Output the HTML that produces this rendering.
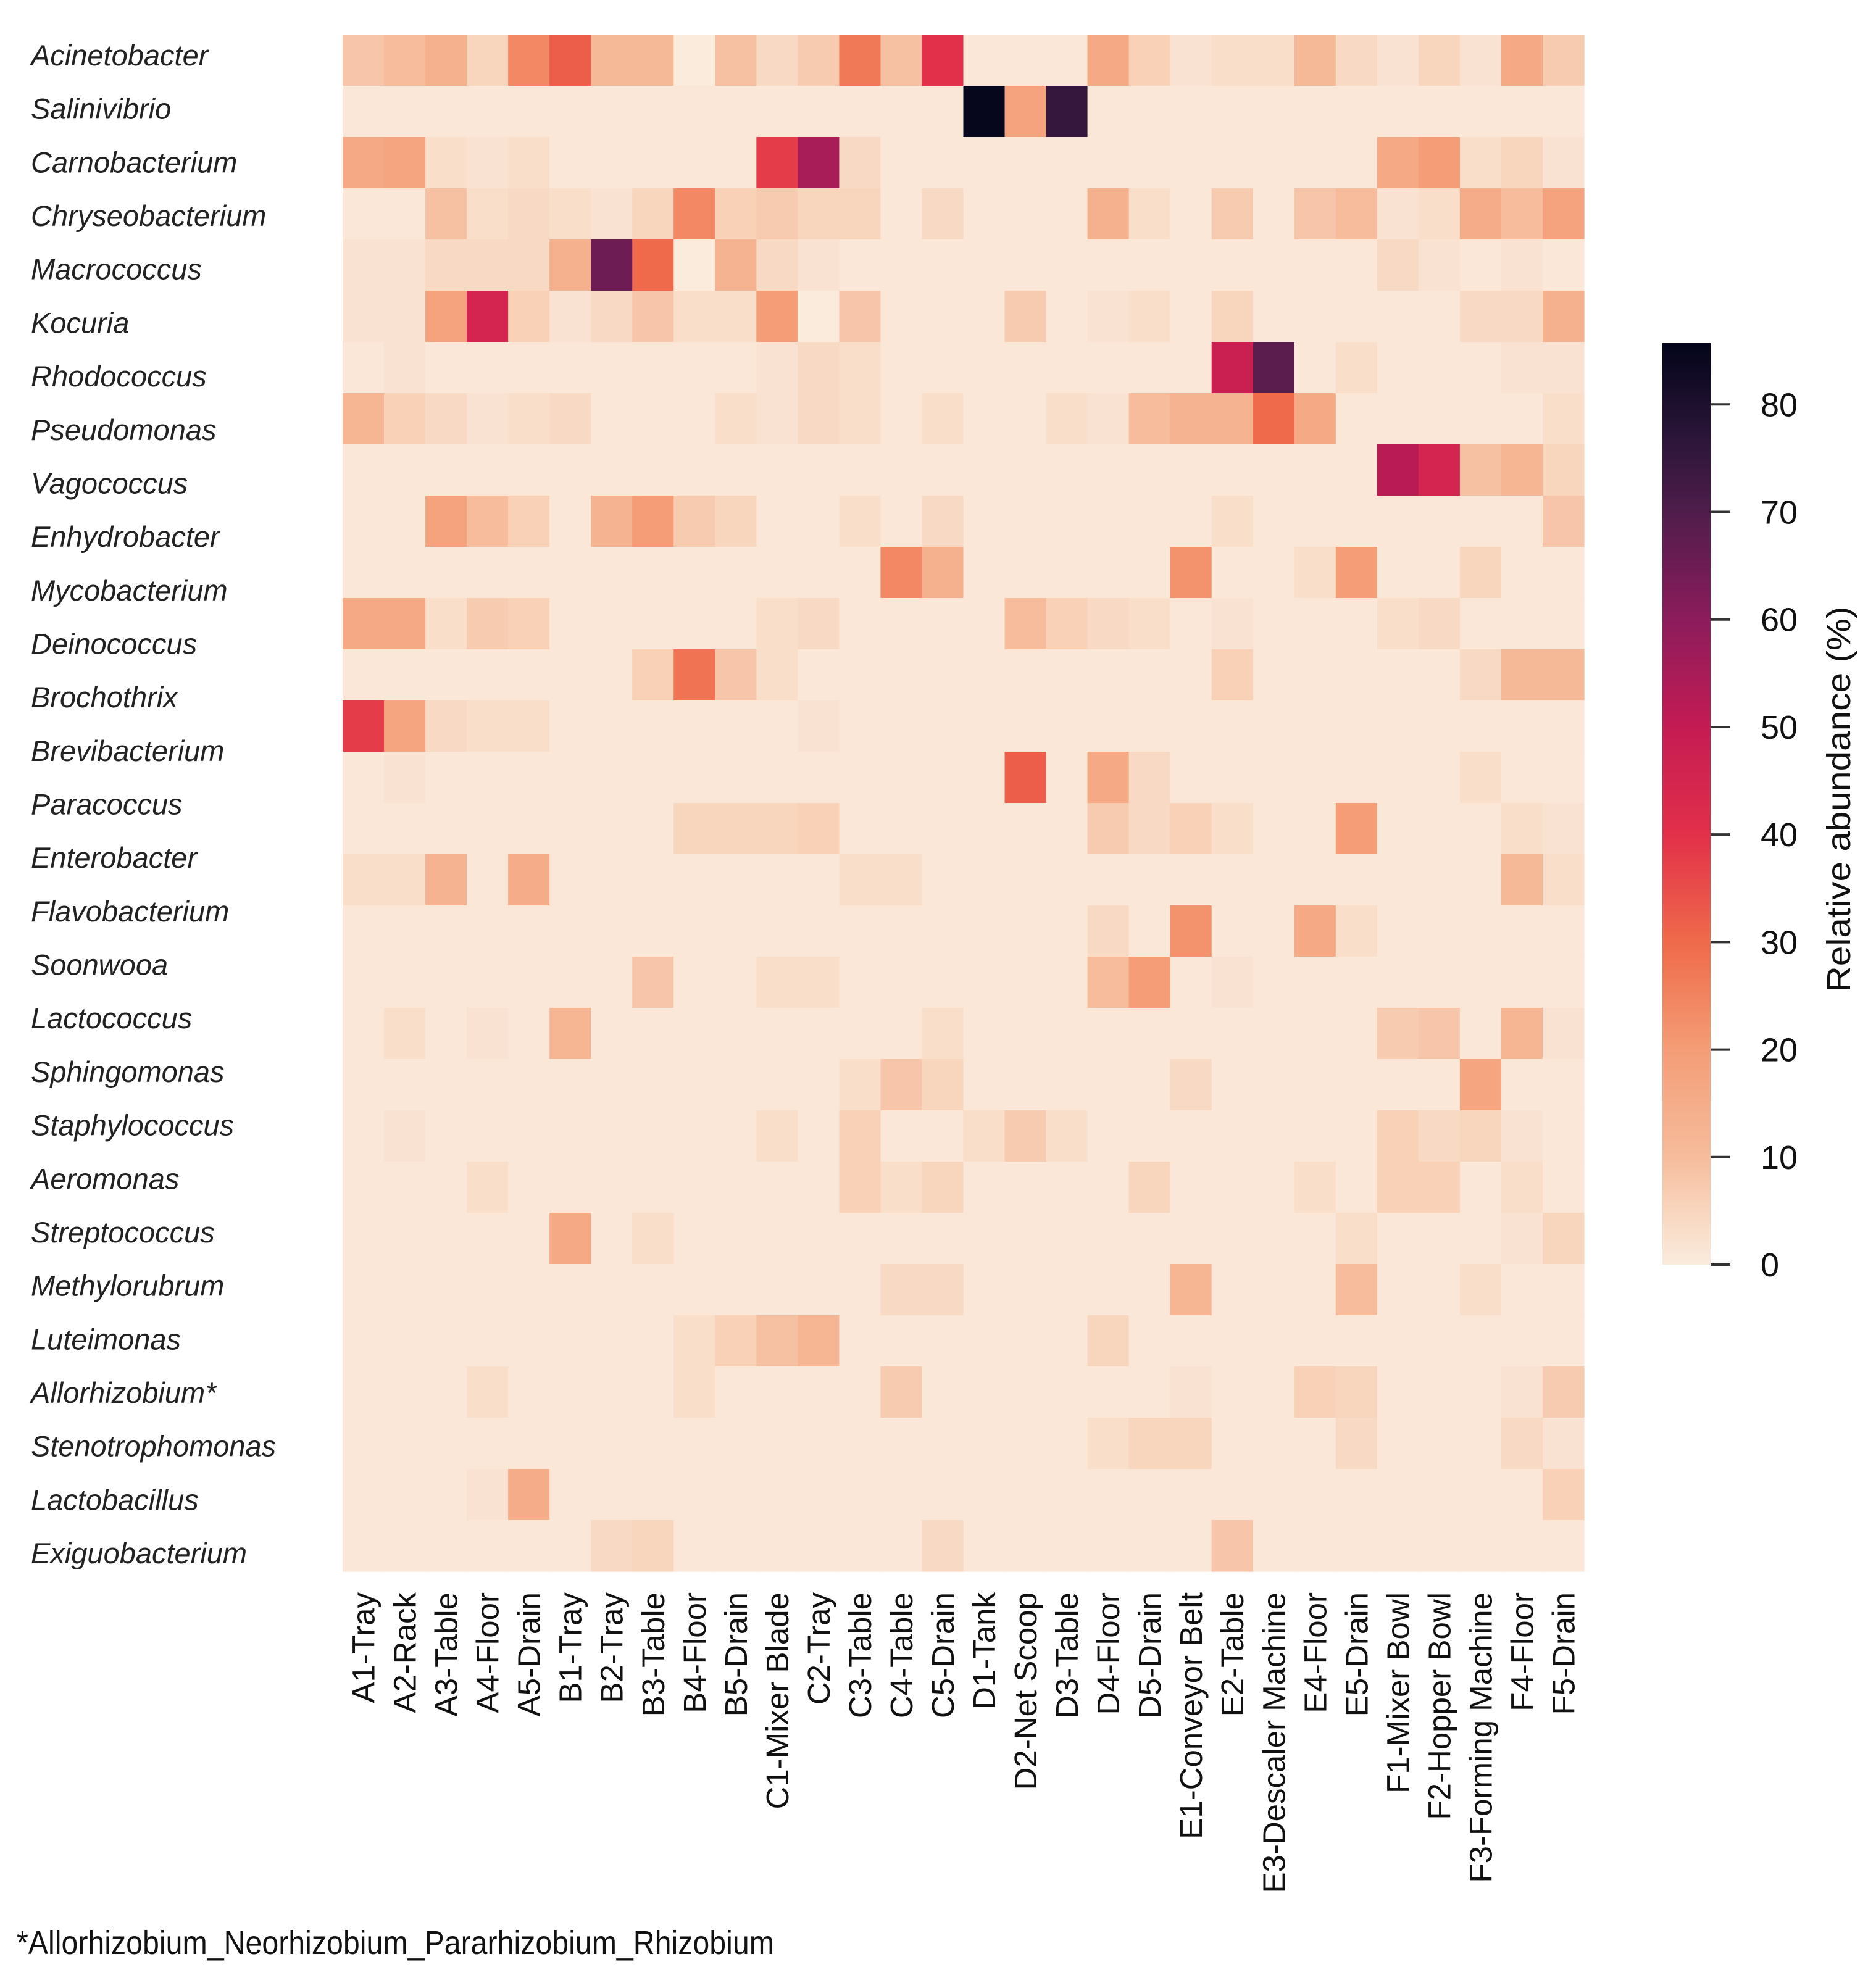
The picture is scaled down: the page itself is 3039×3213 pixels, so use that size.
<!DOCTYPE html>
<html><head><meta charset="utf-8">
<style>
html,body{margin:0;padding:0;background:#fff;}
svg{display:block;font-family:"Liberation Sans",Arial,sans-serif;}
</style></head>
<body>
<svg id="chart" xmlns="http://www.w3.org/2000/svg" width="3039" height="3213" viewBox="0 0 3039 3213">
  <defs>
    <linearGradient id="rocketGrad" x1="0" y1="1" x2="0" y2="0">
      <stop offset="0" stop-color="#faebdd"/>
      <stop offset="0.06" stop-color="#f8d5bd"/>
      <stop offset="0.117" stop-color="#f6bc9c"/>
      <stop offset="0.233" stop-color="#f49d76"/>
      <stop offset="0.35" stop-color="#ef6a4a"/>
      <stop offset="0.467" stop-color="#e2304a"/>
      <stop offset="0.583" stop-color="#c41b53"/>
      <stop offset="0.7" stop-color="#8c1c5c"/>
      <stop offset="0.817" stop-color="#4f1d4b"/>
      <stop offset="0.9" stop-color="#2a1538"/>
      <stop offset="1" stop-color="#03051a"/>
    </linearGradient>
  </defs>
  <g id="cells"></g>
  <g id="ylabels"></g>
  <g id="xlabels"></g>
  <g id="cbar">
    <rect x="2693" y="556" width="78" height="1493" fill="url(#rocketGrad)"/>
  </g>
  <text x="0" y="0" font-size="54" text-anchor="middle" transform="translate(2997,1295) rotate(-90)" textLength="625" lengthAdjust="spacingAndGlyphs" fill="#111">Relative abundance (%)</text>
  <text x="27" y="3166" font-size="54" textLength="1227" lengthAdjust="spacingAndGlyphs" fill="#111">*Allorhizobium_Neorhizobium_Pararhizobium_Rhizobium</text>
</svg>
<script>
const sampleSites = ["A1-Tray","A2-Rack","A3-Table","A4-Floor","A5-Drain","B1-Tray","B2-Tray","B3-Table","B4-Floor","B5-Drain","C1-Mixer Blade","C2-Tray","C3-Table","C4-Table","C5-Drain","D1-Tank","D2-Net Scoop","D3-Table","D4-Floor","D5-Drain","E1-Conveyor Belt","E2-Table","E3-Descaler Machine","E4-Floor","E5-Drain","F1-Mixer Bowl","F2-Hopper Bowl","F3-Forming Machine","F4-Floor","F5-Drain"];
const taxaLabels = ["Acinetobacter","Salinivibrio","Carnobacterium","Chryseobacterium","Macrococcus","Kocuria","Rhodococcus","Pseudomonas","Vagococcus","Enhydrobacter","Mycobacterium","Deinococcus","Brochothrix","Brevibacterium","Paracoccus","Enterobacter","Flavobacterium","Soonwooa","Lactococcus","Sphingomonas","Staphylococcus","Aeromonas","Streptococcus","Methylorubrum","Luteimonas","Allorhizobium*","Stenotrophomonas","Lactobacillus","Exiguobacterium"];
const colorbarTicks = [0,10,20,30,40,50,60,70,80];
const colorMax = 85.7;
// cell rows as drawn in the figure (30 drawn rows)
const row00 = [8,10,14,5,24,32,11,11,0,9,4,7,27,9,40,1,1,1,16,6,2,3,3,11,4,2,5,2,16,7];
const row01 = [1,1,1,1,1,1,1,1,1,1,1,1,1,1,1,85,18,75,1,1,1,1,1,1,1,1,1,1,1,1];
const row02 = [16,17,3,2,3,1,1,1,1,1,38,55,4,1,1,1,1,1,1,1,1,1,1,1,1,16,20,3,5,2];
const row03 = [1,1,9,3,4,3,2,5,24,6,7,5,5,1,4,1,1,1,14,3,1,7,1,8,10,2,3,15,10,18];
const row04 = [2,2,4,4,4,14,65,30,0,13,4,2,1,1,1,1,1,1,1,1,1,1,1,1,1,4,2,1,2,1];
const row05 = [2,2,18,45,6,2,4,8,3,3,20,0,8,1,1,1,7,1,2,3,1,5,1,1,1,1,1,4,4,14];
const row06 = [1,2,1,1,1,1,1,1,1,1,2,4,3,1,1,1,1,1,1,1,1,48,68,1,3,1,1,1,2,2];
const row07 = [12,6,4,2,3,4,1,1,1,3,2,4,3,1,3,1,1,3,2,10,13,13,30,16,1,1,1,1,1,3];
const row08 = [1,1,1,1,1,1,1,1,1,1,1,1,1,1,1,1,1,1,1,1,1,1,1,1,1,52,45,9,12,5];
const row09 = [1,1,18,10,6,1,13,20,7,5,1,1,3,1,4,1,1,1,1,1,1,3,1,1,1,1,1,1,1,8];
const row10 = [1,1,1,1,1,1,1,1,1,1,1,1,1,24,14,1,1,1,1,1,22,1,1,3,20,1,1,5,1,1];
const row11 = [16,16,3,7,6,1,1,1,1,1,3,4,1,1,1,1,10,6,4,3,1,2,1,1,1,3,4,1,1,1];
const row12 = [1,1,1,1,1,1,1,6,28,8,3,1,1,1,1,1,1,1,1,1,1,6,1,1,1,1,1,4,11,11];
const row13 = [38,17,4,3,3,1,1,1,1,1,1,2,1,1,1,1,1,1,1,1,1,1,1,1,1,1,1,1,1,1];
const row14 = [1,2,1,1,1,1,1,1,1,1,1,1,1,1,1,1,32,1,16,4,1,1,1,1,1,1,1,3,1,1];
const row15 = [1,1,1,1,1,1,1,1,5,5,5,6,1,1,1,1,1,1,7,4,6,3,1,1,20,1,1,1,3,2];
const row16 = [3,3,13,1,15,1,1,1,1,1,1,1,3,3,1,1,1,1,1,1,1,1,1,1,1,1,1,1,11,3];
const row17 = [1,1,1,1,1,1,1,1,1,1,1,1,1,1,1,1,1,1,4,1,22,1,1,16,3,1,1,1,1,1];
const row18 = [1,1,1,1,1,1,1,8,1,1,3,3,1,1,1,1,1,1,10,20,1,2,1,1,1,1,1,1,1,1];
const row19 = [1,3,1,2,1,12,1,1,1,1,1,1,1,1,3,1,1,1,1,1,1,1,1,1,1,7,8,1,12,2];
const row20 = [1,1,1,1,1,1,1,1,1,1,1,1,3,8,5,1,1,1,1,1,4,1,1,1,1,1,1,17,1,1];
const row21 = [1,2,1,1,1,1,1,1,1,1,3,1,6,1,1,3,7,3,1,1,1,1,1,1,1,6,4,5,2,1];
const row22 = [1,1,1,3,1,1,1,1,1,1,1,1,6,3,5,1,1,1,1,5,1,1,1,3,1,6,6,1,3,1];
const row23 = [1,1,1,1,1,16,1,3,1,1,1,1,1,1,1,1,1,1,1,1,1,1,1,1,3,1,1,1,2,5];
const row24 = [1,1,1,1,1,1,1,1,1,1,1,1,1,4,4,1,1,1,1,1,12,1,1,1,10,1,1,3,1,1];
const row25 = [1,1,1,1,1,1,1,1,3,6,9,12,1,1,1,1,1,1,5,1,1,1,1,1,1,1,1,1,1,1];
const row26 = [1,1,1,3,1,1,1,1,3,1,1,1,1,7,1,1,1,1,1,1,2,1,1,6,5,1,1,1,2,7];
const row27 = [1,1,1,1,1,1,1,1,1,1,1,1,1,1,1,1,1,1,3,5,5,1,1,1,4,1,1,1,4,2];
const row28 = [1,1,1,2,15,1,1,1,1,1,1,1,1,1,1,1,1,1,1,1,1,1,1,1,1,1,1,1,1,6];
const row29 = [1,1,1,1,1,1,4,5,1,1,1,1,1,1,4,1,1,1,1,1,1,8,1,1,1,1,1,1,1,1];
const cellRows = [row00,row01,row02,row03,row04,row05,row06,row07,row08,row09,row10,row11,row12,row13,row14,row15,row16,row17,row18,row19,row20,row21,row22,row23,row24,row25,row26,row27,row28,row29];

const NS = "http://www.w3.org/2000/svg";
const plot = {left:555, right:2566, top:56, bottom:2546};
const cbar = {top:556, bottom:2049, x:2771};
const colW = (plot.right - plot.left) / sampleSites.length;
const rowH = (plot.bottom - plot.top) / cellRows.length;
const xScale = i => plot.left + i * colW;
const yScale = r => plot.top + r * rowH;
const labelY = k => 90 + k * (2517 - 90) / (taxaLabels.length - 1);
const cbarY = v => cbar.bottom - (v / colorMax) * (cbar.bottom - cbar.top);

const stops = [[0,"#faebdd"],[0.06,"#f8d5bd"],[0.117,"#f6bc9c"],[0.233,"#f49d76"],[0.35,"#ef6a4a"],[0.467,"#e2304a"],[0.583,"#c41b53"],[0.7,"#8c1c5c"],[0.817,"#4f1d4b"],[0.9,"#2a1538"],[1,"#03051a"]];
function hex(c){return [parseInt(c.slice(1,3),16),parseInt(c.slice(3,5),16),parseInt(c.slice(5,7),16)];}
function colorFor(v){
  let t = Math.max(0, Math.min(1, v / colorMax));
  for (let i=0;i<stops.length-1;i++){
    const [a,ca]=stops[i],[b,cb]=stops[i+1];
    if (t<=b){
      const f=(t-a)/(b-a), A=hex(ca), B=hex(cb);
      return "rgb("+A.map((x,j)=>Math.round(x+(B[j]-x)*f)).join(",")+")";
    }
  }
  return stops[stops.length-1][1];
}

const cellsG = document.getElementById("cells");
cellRows.forEach((vals, r) => {
  vals.forEach((v, c) => {
    const rect = document.createElementNS(NS, "rect");
    rect.setAttribute("x", xScale(c));
    rect.setAttribute("y", yScale(r));
    rect.setAttribute("width", colW + 0.6);
    rect.setAttribute("height", rowH + 0.6);
    rect.setAttribute("fill", colorFor(v));
    
    
    cellsG.appendChild(rect);
  });
});

const yG = document.getElementById("ylabels");
taxaLabels.forEach((name, k) => {
  const t = document.createElementNS(NS, "text");
  t.setAttribute("x", 50);
  t.setAttribute("y", labelY(k) + 16);
  t.setAttribute("font-size", 47);
  t.setAttribute("font-style", "italic");
  t.setAttribute("fill", "#222");
  t.textContent = name;
  
  
  yG.appendChild(t);
});

const xG = document.getElementById("xlabels");
sampleSites.forEach((name, i) => {
  const cx = xScale(i) + colW / 2;
  const t = document.createElementNS(NS, "text");
  t.setAttribute("x", 0);
  t.setAttribute("y", 0);
  t.setAttribute("font-size", 51);
  t.setAttribute("text-anchor", "end");
  t.setAttribute("fill", "#111");
  t.setAttribute("transform", "translate(" + (cx + 18) + "," + 2580 + ") rotate(-90)");
  t.textContent = name;
  
  
  xG.appendChild(t);
});

const cbG = document.getElementById("cbar");
colorbarTicks.forEach(v => {
  const y = cbarY(v);
  const ln = document.createElementNS(NS, "line");
  ln.setAttribute("x1", cbar.x);
  ln.setAttribute("x2", cbar.x + 32);
  ln.setAttribute("y1", y);
  ln.setAttribute("y2", y);
  ln.setAttribute("stroke", "#333");
  ln.setAttribute("stroke-width", 4);
  
  
  cbG.appendChild(ln);
  const t = document.createElementNS(NS, "text");
  t.setAttribute("x", 2852);
  t.setAttribute("y", y + 19);
  t.setAttribute("font-size", 54);
  t.setAttribute("fill", "#111");
  t.textContent = String(v);
  
  
  cbG.appendChild(t);
});
</script>
</body></html>
